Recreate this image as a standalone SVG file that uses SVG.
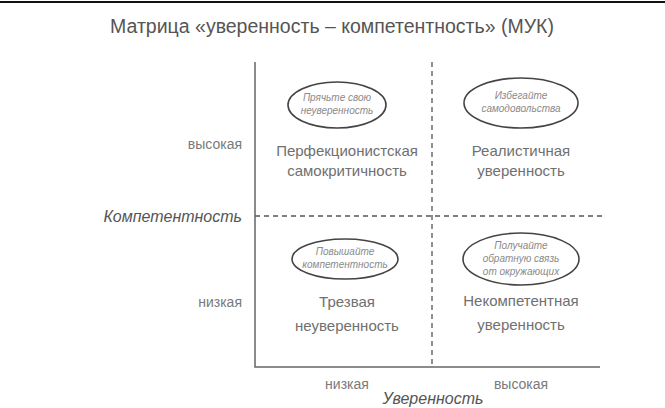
<svg xmlns="http://www.w3.org/2000/svg" width="665" height="408" viewBox="0 0 665 408">
<style>
.t{font-family:"Liberation Sans",Arial,sans-serif;fill:#707070;text-anchor:middle}
.title{font-size:19.5px;fill:#555}
.q{font-size:15px}
.ax{font-size:14px;fill:#7a7a7a}
.axt{font-size:16px;font-style:italic;fill:#555}
.tip{font-size:10px;font-style:italic;fill:#8a8a8a}
.el{fill:#fff;stroke:#444;stroke-width:1.6}
.axis{stroke:#666;stroke-width:1.5;fill:none}
.dash{stroke:#555;stroke-width:1.3;stroke-dasharray:5 4;fill:none}
</style>
<rect width="665" height="408" fill="#fff"/>
<line x1="0" y1="2" x2="665" y2="2" stroke="#111" stroke-width="2"/>
<text class="t title" x="332" y="33">Матрица «уверенность – компетентность» (МУК)</text>
<g id="connectors">
<line class="dash" x1="255" y1="216" x2="602" y2="216"/>
<line class="dash" x1="432" y1="62" x2="432" y2="367"/>
<polyline class="axis" points="255,62 255,367 600,367"/>
</g>
<g id="axis-labels">
<text class="t ax" x="242" y="149" style="text-anchor:end">высокая</text>
<text class="t ax" x="242" y="307" style="text-anchor:end">низкая</text>
<text class="t axt" x="242" y="222" style="text-anchor:end">Компетентность</text>
<text class="t ax" x="347" y="389">низкая</text>
<text class="t ax" x="521" y="389">высокая</text>
<text class="t axt" x="433" y="404">Уверенность</text>
</g>
<g id="q-tl">
<ellipse class="el" cx="337" cy="105" rx="49" ry="23"/>
<text class="t tip" x="337" y="101">Прячьте свою</text>
<text class="t tip" x="337" y="114">неуверенность</text>
<text class="t q" x="347" y="156">Перфекционистская</text>
<text class="t q" x="347" y="176">самокритичность</text>
</g>
<g id="q-tr">
<ellipse class="el" cx="521" cy="103" rx="57" ry="25"/>
<text class="t tip" x="521" y="99">Избегайте</text>
<text class="t tip" x="521" y="112">самодовольства</text>
<text class="t q" x="521" y="156">Реалистичная</text>
<text class="t q" x="521" y="176">уверенность</text>
</g>
<g id="q-bl">
<ellipse class="el" cx="345" cy="259" rx="53" ry="20"/>
<text class="t tip" x="345" y="255">Повышайте</text>
<text class="t tip" x="345" y="268">компетентность</text>
<text class="t q" x="347" y="307">Трезвая</text>
<text class="t q" x="347" y="331">неуверенность</text>
</g>
<g id="q-br">
<ellipse class="el" cx="521" cy="259" rx="58" ry="26"/>
<text class="t tip" x="521" y="249">Получайте</text>
<text class="t tip" x="521" y="262">обратную связь</text>
<text class="t tip" x="521" y="275">от окружающих</text>
<text class="t q" x="521" y="306">Некомпетентная</text>
<text class="t q" x="521" y="330">уверенность</text>
</g>
</svg>
